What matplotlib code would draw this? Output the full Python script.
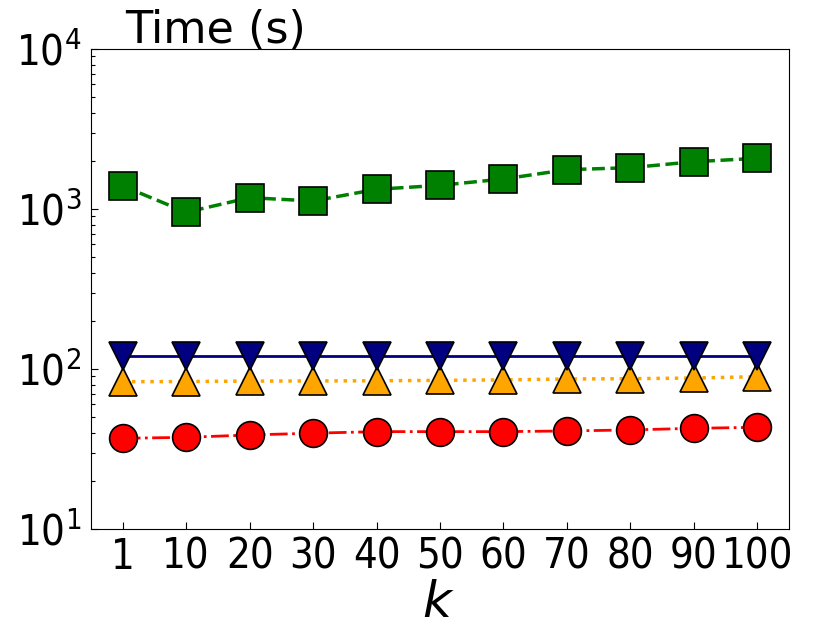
import matplotlib
matplotlib.use("Agg")
import matplotlib.pyplot as plt

plt.rcParams["mathtext.fontset"] = "custom"
plt.rcParams["mathtext.rm"] = "DejaVu Sans:stretch=condensed"
plt.rcParams["mathtext.it"] = "DejaVu Sans:italic:stretch=condensed"
plt.rcParams["mathtext.default"] = "rm"

categories = ["1", "10", "20", "30", "40", "50", "60", "70", "80", "90", "100"]
green_sq = [1393, 954, 1177, 1122, 1328, 1406, 1540, 1761, 1812, 1975, 2074]
blue_tri = [120, 120, 120, 120, 120, 120, 120, 120, 120, 120, 120]
orange_tri = [83.3, 83.5, 84.0, 84.2, 84.4, 84.9, 85.5, 86.6, 87.0, 87.8, 89.5]
red_circ = [36.9, 37.4, 38.7, 39.7, 40.6, 40.6, 40.6, 41.0, 41.6, 42.6, 43.2]

fig = plt.figure(figsize=(8.3, 6.23), dpi=100)
ax = fig.add_axes([91/830, 1-529/623, 698/830, 480/623])
x = list(range(len(categories)))

ms = 20
ax.plot(x, red_circ, color="red", ls="-.", lw=2, marker="o", ms=ms, mfc="red", mec="black", mew=1.2)
ax.plot(x, orange_tri, color="orange", ls=":", lw=2.5, marker="^", ms=ms, mfc="orange", mec="black", mew=1.2)
ax.plot(x, blue_tri, color="navy", ls="-", lw=2, marker="v", ms=ms, mfc="navy", mec="black", mew=1.2)
ax.plot(x, green_sq, color="green", ls="--", lw=2.5, marker="s", ms=ms, mfc="green", mec="black", mew=1.2)

ax.set_yscale("log")
ax.set_ylim(10, 1e4)
ax.set_xlim(-0.5, len(categories) - 0.5)
ax.set_xticks(x)
ax.set_xticklabels(categories)
ax.tick_params(axis="both", which="both", direction="in", top=False, right=False)
ax.tick_params(axis="both", which="major", length=5, width=0.8, labelsize=30)
ax.tick_params(axis="x", which="major", pad=5)
ax.tick_params(axis="y", which="major", pad=7)
ax.tick_params(axis="y", which="minor", length=3, width=0.8)
for lab in ax.get_xticklabels() + ax.get_yticklabels():
    lab.set_fontstretch("condensed")

fig.text(125/830, 1-43/623, "Time (s)", ha="left", va="baseline", fontsize=32)
fig.text(437/830, 1-617/623, "k", ha="center", va="baseline", fontsize=36, style="italic")

fig.savefig("out.png", dpi=100)
